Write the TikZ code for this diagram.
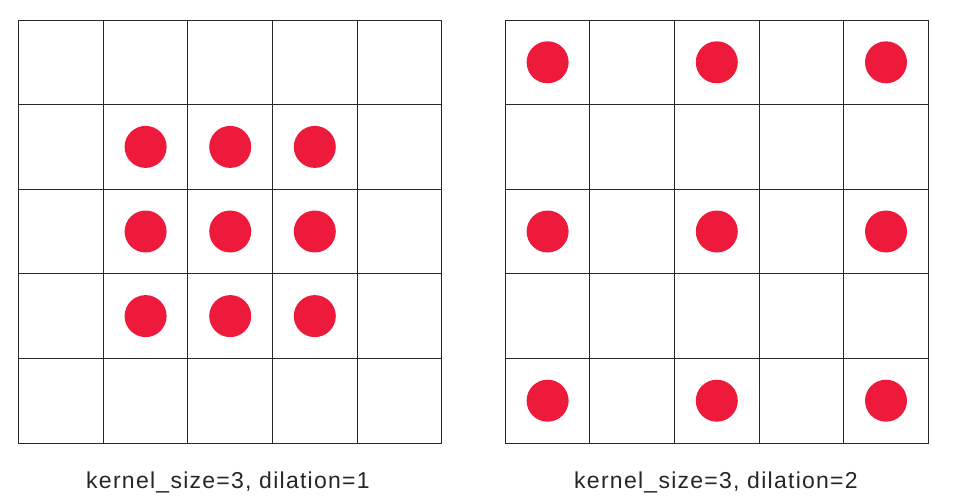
\documentclass[tikz,border=0pt]{standalone}
\usepackage{fontspec}
\setmainfont{Liberation Sans}
\newfontfamily\capfont[LetterSpace=5.5]{Liberation Sans}
\usepackage{xcolor}
\definecolor{dotred}{RGB}{238, 26, 60}
\definecolor{gridgray}{RGB}{40, 40, 40}
\usetikzlibrary{positioning}

\begin{document}
\begin{tikzpicture}[x=1pt, y=-1pt,
        cell/.style={rectangle, draw=gridgray, line width=1pt, minimum size=84.6pt, inner sep=0pt, outer sep=0pt},
        dot/.style={circle, fill=dotred, minimum size=42pt, inner sep=0pt},
        caption/.style={font=\capfont\fontsize{23}{27}\selectfont, text=black!85, anchor=base}]

        \useasboundingbox (0,0) rectangle (955,498);

        % left grid: kernel 3, dilation 1
        \foreach \i in {0,...,4}
            \foreach \j in {0,...,4}
                \node [cell] (L-\i-\j) at ({18.7+42.3+84.6*\i},{20+42.3+84.6*\j}) {};
        \foreach \i in {1,2,3}
            \foreach \j in {1,2,3}
                \node [dot] (dL-\i-\j) at (L-\i-\j.center) {};

        % right grid: kernel 3, dilation 2
        \foreach \i in {0,...,4}
            \foreach \j in {0,...,4}
                \node [cell] (R-\i-\j) at ({505.3+42.3+84.6*\i},{20+42.3+84.6*\j}) {};
        \foreach \i in {0,2,4}
            \foreach \j in {0,2,4}
                \node [dot] (dR-\i-\j) at (R-\i-\j.center) {};

        \node [caption] (capL) at (228,488) {kernel\_size=3, dilation=1};
        \node [caption] (capR) at (716,488) {kernel\_size=3, dilation=2};
    \end{tikzpicture}
\end{document}
